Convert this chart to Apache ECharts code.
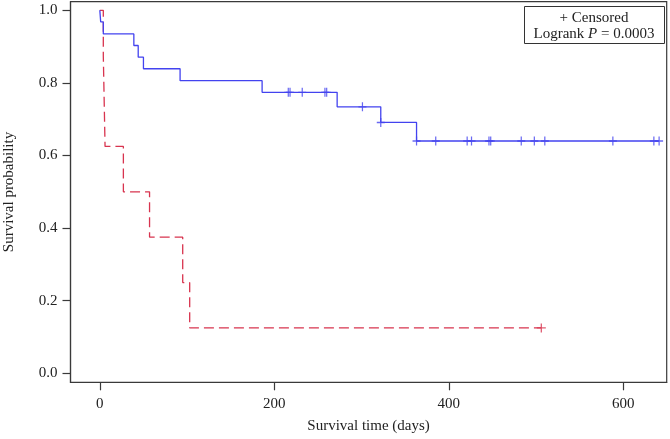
<!DOCTYPE html>
<html>
<head>
<meta charset="utf-8">
<script src="https://cdn.jsdelivr.net/npm/echarts@6/dist/echarts.min.js"></script>
<style>html,body{margin:0;padding:0;background:#fff;}#chart{width:670px;height:439px;}</style>
</head>
<body>
<div id="chart"></div>
<script>
// Kaplan-Meier step data (time in days, survival probability after event)
var blueTimes = [0, 1, 4, 39, 44, 50, 92, 186, 272, 322, 363, 641];
var blueSurv  = [1, 0.968, 0.935, 0.903, 0.871, 0.839, 0.806, 0.774, 0.734, 0.691, 0.640, 0.640];
var blueCensored = [216, 218, 232, 258, 260, 301, 322, 363, 385, 421, 426, 446, 448, 483, 498, 510, 588, 635, 641];

var redTimes = [0, 4, 6, 27, 57, 95, 103, 506];
var redSurv  = [1, 0.875, 0.625, 0.5, 0.375, 0.25, 0.125, 0.125];
var redCensored = [506];

var xTicks = [0, 200, 400, 600];
var yTicks = [0, 0.2, 0.4, 0.6, 0.8, 1.0];

var blueColor = '#4343ef';
var redColor = '#d8344f';
var axisColor = '#3a3a3a';
var font = 'Liberation Serif';

function survAt(times, surv, t) {
  var v = surv[0];
  for (var i = 0; i < times.length; i++) { if (times[i] <= t) v = surv[i]; }
  return v;
}
function pairs(ts, ss) { return ts.map(function (t, i) { return [t, ss[i]]; }); }
function censorPts(cs, ts, ss) { return cs.map(function (t) { return [t, survAt(ts, ss, t)]; }); }

var plus = 'path://M0,-5L0,5M-5,0L5,0';

var chart = echarts.init(document.getElementById('chart'), null, {renderer: 'canvas'});
chart.setOption({
  animation: false,
  backgroundColor: '#fff',
  grid: {left: 70.5, right: 3.3, top: 1.7, bottom: 56.7, show: true, borderColor: axisColor, borderWidth: 1.2, outerBoundsMode: 'none'},
  xAxis: {
    type: 'value', min: -33.6, max: 649.7,
    name: 'Survival time (days)', nameLocation: 'middle', nameGap: 36,
    nameTextStyle: {fontFamily: font, fontSize: 15, color: '#222'},
    axisLine: {show: true, onZero: false, lineStyle: {color: axisColor, width: 1.2}},
    axisTick: {show: true, inside: false, length: 8, customValues: xTicks, lineStyle: {color: axisColor, width: 1.2}},
    axisLabel: {customValues: xTicks, margin: 14, fontFamily: font, fontSize: 15, color: '#222'},
    splitLine: {show: false}
  },
  yAxis: {
    type: 'value', min: -0.0248, max: 1.0237,
    name: 'Survival probability', nameLocation: 'middle', nameGap: 54, nameRotate: 90,
    nameTextStyle: {fontFamily: font, fontSize: 15, color: '#222'},
    axisLine: {show: true, onZero: false, lineStyle: {color: axisColor, width: 1.2}},
    axisTick: {show: true, inside: false, length: 8, customValues: yTicks, lineStyle: {color: axisColor, width: 1.2}},
    axisLabel: {customValues: yTicks, margin: 13, fontFamily: font, fontSize: 15, color: '#222',
      formatter: function (v) { return v.toFixed(1); }},
    splitLine: {show: false}
  },
  series: [
    {type: 'line', step: 'end', data: pairs(blueTimes, blueSurv), showSymbol: false, symbol: 'none',
     lineStyle: {color: blueColor, width: 1.3}, z: 3},
    {type: 'line', step: 'end', data: pairs(redTimes, redSurv), showSymbol: false, symbol: 'none',
     lineStyle: {color: redColor, width: 1.3, type: [10, 5]}, z: 2},
    {type: 'scatter', data: censorPts(blueCensored, blueTimes, blueSurv), symbol: plus, symbolSize: [8, 9],
     itemStyle: {color: 'rgba(0,0,0,0)', borderColor: blueColor, borderWidth: 1.3}, z: 4},
    {type: 'scatter', data: censorPts(redCensored, redTimes, redSurv), symbol: plus, symbolSize: [9, 9],
     itemStyle: {color: 'rgba(0,0,0,0)', borderColor: redColor, borderWidth: 1.3}, z: 4}
  ],
  graphic: [
    {type: 'rect', left: 524, top: 6, shape: {width: 140, height: 37}, style: {fill: '#fff', stroke: '#333', lineWidth: 1}, z: 10},
    {type: 'text', x: 594, y: 18, style: {text: '+ Censored', font: '15px "Liberation Serif"', fill: '#222', align: 'center', verticalAlign: 'middle'}, z: 11},
    {type: 'text', x: 594, y: 34, style: {
      text: '{n|Logrank }{i|P}{n| = 0.0003}', align: 'center', verticalAlign: 'middle',
      rich: {n: {fontFamily: font, fontSize: 15, fill: '#222'}, i: {fontFamily: font, fontSize: 15, fontStyle: 'italic', fill: '#222'}}
    }, z: 11}
  ]
});
</script>
</body>
</html>
